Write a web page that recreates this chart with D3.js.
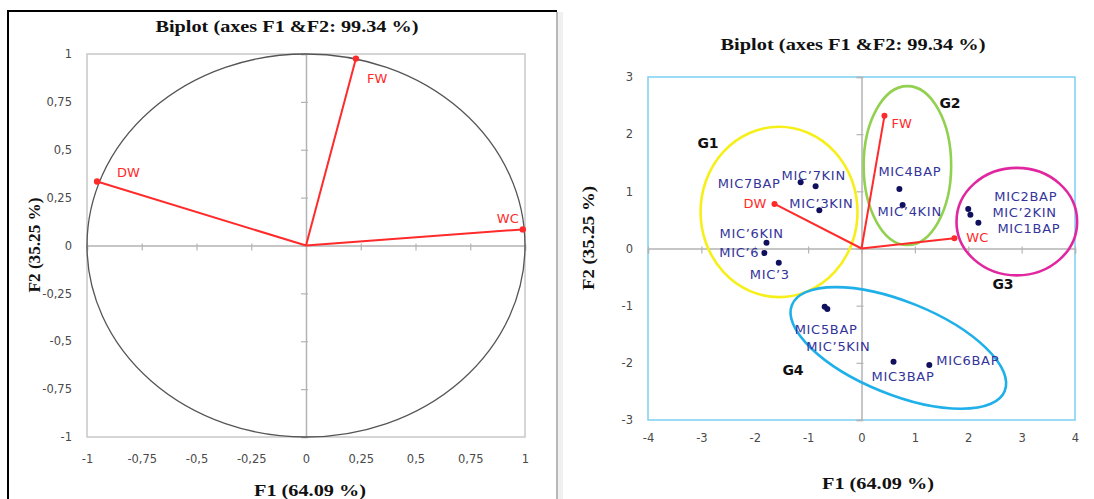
<!DOCTYPE html>
<html>
<head>
<meta charset="utf-8">
<script src="https://cdn.jsdelivr.net/npm/d3@7/dist/d3.min.js"></script>
<style>
  html, body { margin: 0; padding: 0; background: #fff; }
  svg { display: block; }
</style>
</head>
<body>
<svg id="chart" width="1094" height="499"></svg>
<script>
// ---------------- DATA ----------------
const titleText = "Biplot (axes F1 &F2: 99.34 %)";
const xTitle = "F1 (64.09 %)";
const yTitle = "F2 (35.25 %)";

// Correlation circle (left panel)
const varNames = ["DW", "FW", "WC"];
const varF1 = [-0.954, 0.228, 0.990];
const varF2 = [0.334, 0.976, 0.084];
const leftTicks = [-1, -0.75, -0.5, -0.25, 0, 0.25, 0.5, 0.75, 1];

// Biplot (right panel)
const varF1b = [-1.63, 0.43, 1.74];
const varF2b = [0.78, 2.32, 0.18];
const obsNames = ["MIC7BAP", "MIC\u20197KIN", "MIC\u20193KIN", "MIC\u20196KIN", "MIC\u20196", "MIC\u20193",
  "MIC4BAP", "MIC\u20194KIN", "MIC2BAP", "MIC\u20192KIN", "MIC1BAP",
  "MIC5BAP", "MIC\u20195KIN", "MIC3BAP", "MIC6BAP"];
const obsF1 = [-1.14, -0.86, -0.79, -1.78, -1.82, -1.55, 0.71, 0.77, 2.00, 2.04, 2.19, -0.69, -0.64, 0.60, 1.27];
const obsF2 = [1.16, 1.09, 0.67, 0.10, -0.08, -0.25, 1.04, 0.76, 0.69, 0.59, 0.45, -1.02, -1.06, -1.98, -2.04];
const rightXTicks = [-4, -3, -2, -1, 0, 1, 2, 3, 4];
const rightYTicks = [-3, -2, -1, 0, 1, 2, 3];

// Group ellipses (data units; rx/ry in F1 / F2 units, angle in degrees)
const groupNames = ["G1", "G2", "G3", "G4"];
const groupCx = [-1.545, 0.86, 2.91, 0.69];
const groupCy = [0.64, 1.45, 0.47, -1.74];
const groupRx = [1.47, 0.82, 1.13, 2.15];
const groupRy = [1.49, 1.39, 0.94, 0.87];
const groupAngle = [0, 0, 0, 22];

// ---------------- LAYOUT / STYLE ----------------
const groupColors = ["#f7ef1a", "#92d050", "#e0279f", "#1fb0ea"];
const groupLabelPos = [[708, 143], [950, 103], [1003, 284], [793, 370]]; // px
const obsLabelOff = [[-20, 1, "end"], [-34, -11, "start"], [-30, -7, "start"], [-47, -9, "start"],
  [-5, -1, "end"], [-29, 12, "start"], [-21, -18, "start"], [-25, 6, "start"],
  [26, -13, "start"], [22, -2, "start"], [19, 6, "start"], [-30, 23, "start"],
  [-21, 37, "start"], [-22, 15, "start"], [7, -5, "start"]];
const varLabelOffL = [[20, -9, "start"], [11, 20, "start"], [-4, -11, "end"]];
const varLabelOffR = [[-8, 0, "end"], [7, 8, "start"], [12, -1, "start"]];

const svg = d3.select("#chart");
const red = "#ff2a2a";
const tickColor = "#4a4a4a";
const sans = "'DejaVu Sans', sans-serif";
const serif = "'Liberation Serif', 'Times New Roman', serif";

// Frame
svg.append("line").attr("x1", 7).attr("y1", 11).attr("x2", 557).attr("y2", 11)
  .attr("stroke", "#000").attr("stroke-width", 2);
svg.append("line").attr("x1", 8).attr("y1", 10).attr("x2", 8).attr("y2", 499)
  .attr("stroke", "#000").attr("stroke-width", 2);
svg.append("line").attr("x1", 557).attr("y1", 12).attr("x2", 557).attr("y2", 499)
  .attr("stroke", "#a0a0a0").attr("stroke-width", 1.5);
svg.append("rect").attr("x", 558).attr("y", 12).attr("width", 5).attr("height", 487)
  .attr("fill", "#f0f0f0");

// ---------------- LEFT PANEL ----------------
const xL = d3.scaleLinear().domain([-1, 1]).range([87, 525]);
const yL = d3.scaleLinear().domain([-1, 1]).range([437, 54]);
const gL = svg.append("g");

gL.append("rect").attr("x", xL(-1)).attr("y", yL(1)).attr("width", xL(1) - xL(-1)).attr("height", yL(-1) - yL(1))
  .attr("fill", "none").attr("stroke", "#c8c8c8").attr("stroke-width", 1.5);

// zero axes with ticks
const axL = gL.append("g").attr("transform", `translate(0,${yL(0)})`)
  .call(d3.axisBottom(xL).tickValues(leftTicks).tickSize(5).tickFormat(""));
const ayL = gL.append("g").attr("transform", `translate(${xL(0)},0)`)
  .call(d3.axisLeft(yL).tickValues(leftTicks).tickSize(5).tickFormat(""));
[axL, ayL].forEach(a => {
  a.selectAll("path").attr("stroke", "#b4b4b4").attr("stroke-width", 1.5);
  a.selectAll("line").attr("stroke", "#b4b4b4").attr("stroke-width", 1.2);
});
axL.selectAll(".tick line").attr("y1", -2);
ayL.selectAll(".tick line").attr("x1", 2);

// outer tick labels
const fmtComma = v => String(v).replace(".", ",");
const fmtPlain = v => String(v);
gL.append("g").attr("transform", `translate(72,0)`)
  .call(d3.axisLeft(yL).tickValues(leftTicks).tickSize(0).tickPadding(0).tickFormat(fmtComma))
  .call(g => g.select(".domain").remove())
  .selectAll("text").attr("font-family", sans).attr("font-size", 11.5).attr("fill", tickColor);
gL.append("g").attr("transform", `translate(0,455)`)
  .call(d3.axisBottom(xL).tickValues(leftTicks).tickSize(0).tickPadding(0).tickFormat(fmtComma))
  .call(g => g.select(".domain").remove())
  .selectAll("text").attr("font-family", sans).attr("font-size", 11.5).attr("fill", tickColor);

// circle
gL.append("ellipse").attr("cx", xL(0)).attr("cy", yL(0))
  .attr("rx", xL(1) - xL(0)).attr("ry", yL(0) - yL(1))
  .attr("fill", "none").attr("stroke", "#555").attr("stroke-width", 1.3);

// vectors
varNames.forEach((n, i) => {
  gL.append("line").attr("x1", xL(0)).attr("y1", yL(0)).attr("x2", xL(varF1[i])).attr("y2", yL(varF2[i]))
    .attr("stroke", red).attr("stroke-width", 2);
  gL.append("circle").attr("cx", xL(varF1[i])).attr("cy", yL(varF2[i])).attr("r", 3.2).attr("fill", red);
  const o = varLabelOffL[i];
  gL.append("text").attr("x", xL(varF1[i]) + o[0]).attr("y", yL(varF2[i]) + o[1])
    .attr("text-anchor", o[2]).attr("dominant-baseline", "central")
    .attr("font-family", sans).attr("font-size", 13).attr("fill", red).text(n);
});

// titles
gL.append("text").attr("x", 287).attr("y", 32).attr("text-anchor", "middle")
  .attr("font-family", serif).attr("font-weight", "bold").attr("font-size", 16)
  .attr("textLength", 263).attr("lengthAdjust", "spacingAndGlyphs").attr("fill", "#111").text(titleText);
gL.append("text").attr("x", 310).attr("y", 496).attr("text-anchor", "middle")
  .attr("font-family", serif).attr("font-weight", "bold").attr("font-size", 16)
  .attr("textLength", 112).attr("lengthAdjust", "spacingAndGlyphs").attr("fill", "#111").text(xTitle);
gL.append("text").attr("transform", "translate(40,245) rotate(-90)").attr("text-anchor", "middle")
  .attr("font-family", serif).attr("font-weight", "bold").attr("font-size", 16)
  .attr("textLength", 95).attr("lengthAdjust", "spacingAndGlyphs").attr("fill", "#111").text(yTitle);

// ---------------- RIGHT PANEL ----------------
const xR = d3.scaleLinear().domain([-4, 4]).range([648, 1075]);
const yR = d3.scaleLinear().domain([-3, 3]).range([420, 77]);
const gR = svg.append("g");

gR.append("rect").attr("x", xR(-4)).attr("y", yR(3)).attr("width", xR(4) - xR(-4)).attr("height", yR(-3) - yR(3))
  .attr("fill", "none").attr("stroke", "#7ccff3").attr("stroke-width", 1.5);

const axR = gR.append("g").attr("transform", `translate(0,${yR(0)})`)
  .call(d3.axisBottom(xR).tickValues(rightXTicks).tickSize(5).tickFormat(""));
const ayR = gR.append("g").attr("transform", `translate(${xR(0)},0)`)
  .call(d3.axisLeft(yR).tickValues(rightYTicks).tickSize(5).tickFormat(""));
[axR, ayR].forEach(a => {
  a.selectAll("path").attr("stroke", "#b4b4b4").attr("stroke-width", 1.5);
  a.selectAll("line").attr("stroke", "#b4b4b4").attr("stroke-width", 1.2);
});
axR.selectAll(".tick line").attr("y1", -2);
ayR.selectAll(".tick line").attr("x1", 2);

gR.append("g").attr("transform", `translate(633,0)`)
  .call(d3.axisLeft(yR).tickValues(rightYTicks).tickSize(0).tickPadding(0).tickFormat(fmtPlain))
  .call(g => g.select(".domain").remove())
  .selectAll("text").attr("font-family", sans).attr("font-size", 11.5).attr("fill", tickColor);
gR.append("g").attr("transform", `translate(0,434)`)
  .call(d3.axisBottom(xR).tickValues(rightXTicks).tickSize(0).tickPadding(0).tickFormat(fmtPlain))
  .call(g => g.select(".domain").remove())
  .selectAll("text").attr("font-family", sans).attr("font-size", 11.5).attr("fill", tickColor);

// group ellipses
groupNames.forEach((n, i) => {
  const rx = xR(groupRx[i]) - xR(0);
  const ry = i === 3 ? xR(groupRy[i]) - xR(0) : yR(0) - yR(groupRy[i]);
  gR.append("ellipse")
    .attr("transform", `translate(${xR(groupCx[i])},${yR(groupCy[i])}) rotate(${groupAngle[i]})`)
    .attr("rx", rx).attr("ry", ry)
    .attr("fill", "none").attr("stroke", groupColors[i]).attr("stroke-width", 2.6);
  gR.append("text").attr("x", groupLabelPos[i][0]).attr("y", groupLabelPos[i][1])
    .attr("text-anchor", "middle").attr("dominant-baseline", "central")
    .attr("font-family", sans).attr("font-weight", "bold").attr("font-size", 14).attr("fill", "#111").text(n);
});

// vectors
varNames.forEach((n, i) => {
  gR.append("line").attr("x1", xR(0)).attr("y1", yR(0)).attr("x2", xR(varF1b[i])).attr("y2", yR(varF2b[i]))
    .attr("stroke", red).attr("stroke-width", 2);
  gR.append("circle").attr("cx", xR(varF1b[i])).attr("cy", yR(varF2b[i])).attr("r", 3).attr("fill", red);
  const o = varLabelOffR[i];
  gR.append("text").attr("x", xR(varF1b[i]) + o[0]).attr("y", yR(varF2b[i]) + o[1])
    .attr("text-anchor", o[2]).attr("dominant-baseline", "central")
    .attr("font-family", sans).attr("font-size", 13).attr("fill", red).text(n);
});

// observations
obsNames.forEach((n, i) => {
  gR.append("circle").attr("cx", xR(obsF1[i])).attr("cy", yR(obsF2[i])).attr("r", 3).attr("fill", "#10105e");
  const o = obsLabelOff[i];
  gR.append("text").attr("x", xR(obsF1[i]) + o[0]).attr("y", yR(obsF2[i]) + o[1])
    .attr("text-anchor", o[2]).attr("dominant-baseline", "central")
    .attr("font-family", sans).attr("font-size", 13).attr("letter-spacing", 0.7)
    .attr("fill", "#34349a").text(n);
});

// titles
gR.append("text").attr("x", 853).attr("y", 50).attr("text-anchor", "middle")
  .attr("font-family", serif).attr("font-weight", "bold").attr("font-size", 16)
  .attr("textLength", 265).attr("lengthAdjust", "spacingAndGlyphs").attr("fill", "#111").text(titleText);
gR.append("text").attr("x", 878).attr("y", 489).attr("text-anchor", "middle")
  .attr("font-family", serif).attr("font-weight", "bold").attr("font-size", 16)
  .attr("textLength", 112).attr("lengthAdjust", "spacingAndGlyphs").attr("fill", "#111").text(xTitle);
gR.append("text").attr("transform", "translate(594,238) rotate(-90)").attr("text-anchor", "middle")
  .attr("font-family", serif).attr("font-weight", "bold").attr("font-size", 16)
  .attr("textLength", 104).attr("lengthAdjust", "spacingAndGlyphs").attr("fill", "#111").text(yTitle);
</script>
</body>
</html>
